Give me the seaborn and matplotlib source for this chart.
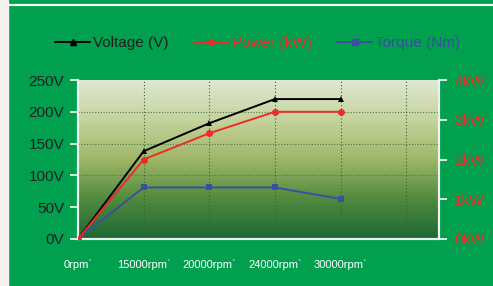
import matplotlib
matplotlib.use("Agg")
import matplotlib.pyplot as plt
import seaborn as sns
import pandas as pd
import numpy as np
from matplotlib.colors import LinearSegmentedColormap
from matplotlib.patches import Rectangle
from matplotlib.lines import Line2D

# data
speeds = ["0rpm`", "15000rpm`", "20000rpm`", "24000rpm`", "30000rpm`"]
voltage = [0, 138, 182, 220, 220]          # V, left axis
power = [0, 2.0, 2.66, 3.2, 3.2]           # kW, right axis
torque = [0, 81, 81, 81, 63]               # Nm, drawn on left scale
v_ticks = [0, 50, 100, 150, 200, 250]
kw_ticks = [0, 1, 2, 3, 4]

sns.set_style("white")
plt.rcParams["font.family"] = ["Liberation Sans", "DejaVu Sans"]

GREEN = "#00a04f"
RED = "#ee2a2a"
BLUE = "#3a4f9e"
df = pd.DataFrame({"pos": range(len(speeds)), "speed": speeds,
                   "voltage": voltage, "power": power, "torque": torque})

fig = plt.figure(figsize=(4.93, 2.86), dpi=100, facecolor=GREEN)
fig.patches.append(Rectangle((0, 0), 8 / 493, 1, transform=fig.transFigure,
                             color="#f4f3ef", zorder=0))
fig.add_artist(Line2D([8 / 493, 1], [281 / 286, 281 / 286], color="white", lw=1.6))

ax = fig.add_axes([78 / 493, 47 / 286, 361 / 493, 159 / 286])
ax.set_facecolor("none")
ax2 = ax.twinx()

# gradient plot background
cmap = LinearSegmentedColormap.from_list(
    "bg", ["#1d6834", "#4f8a3e", "#9fb667", "#c5d39c", "#dfe8d2"])
ax.imshow(np.linspace(0, 1, 256).reshape(-1, 1), cmap=cmap, aspect="auto",
          extent=[0, 5.5, 0, 250], origin="lower", zorder=0)

sns.lineplot(data=df, x="pos", y="voltage", ax=ax, color="black", lw=1.4,
             marker="^", markersize=5, markeredgewidth=0, zorder=5)
sns.lineplot(data=df, x="pos", y="torque", ax=ax, color=BLUE, lw=1.4,
             marker="s", markersize=5, markeredgewidth=0, zorder=4)
sns.lineplot(data=df, x="pos", y="power", ax=ax2, color=RED, lw=1.4,
             marker="o", markersize=5, markeredgewidth=0, zorder=5)

ax.set_xlim(0, 5.5)
ax.set_ylim(0, 250)
ax2.set_ylim(0, 4)
ax.set_xticks(range(6))
ax.set_xticklabels(speeds + [""], fontsize=8, color="white")
ax.set_yticks(v_ticks)
ax.set_yticklabels([f"{v}V" for v in v_ticks], fontsize=11, color="#1e1e1e")
ax2.set_yticks(kw_ticks)
ax2.set_yticklabels([f"{k}kW" for k in kw_ticks], fontsize=11, color=RED)
ax.set_xlabel("")
ax.set_ylabel("")
ax2.set_ylabel("")

ax.tick_params(axis="x", length=3, width=1, color="white", pad=12)
ax.tick_params(axis="y", length=6, width=1.2, color="white", pad=4)
ax2.tick_params(axis="y", length=6, width=1.2, color="white", pad=5)

for g in v_ticks[1:-1]:
    ax.axhline(g, color="#4f7a4a", lw=0.8, ls=(0, (1, 1.5)), zorder=1)
for p in range(1, 6):
    ax.axvline(p, color="#3f5f3a", lw=0.8, ls=(0, (1, 2)), zorder=1)

for a in (ax, ax2):
    for s in a.spines.values():
        s.set_visible(False)
    for side in ("left", "bottom", "right"):
        a.spines[side].set_visible(True)
        a.spines[side].set_color("#f2f2ee")
        a.spines[side].set_linewidth(1.5)

handles = [
    Line2D([], [], color="black", lw=1.4, marker="^", markersize=4),
    Line2D([], [], color=RED, lw=1.4, marker="o", markersize=4),
    Line2D([], [], color=BLUE, lw=1.4, marker="s", markersize=4),
]
leg = fig.legend(handles, ["Voltage (V)", "Power (kW)", "Torque (Nm)"],
                 loc="center left", bbox_to_anchor=(55 / 493, 1 - 43 / 286), ncol=3,
                 frameon=False, fontsize=11, handlelength=2.3, handletextpad=0.2,
                 columnspacing=1.65, borderpad=0, borderaxespad=0)
for t, c in zip(leg.get_texts(), ["#1e1e1e", RED, BLUE]):
    t.set_color(c)

fig.savefig("out.png", dpi=100, facecolor=GREEN)
